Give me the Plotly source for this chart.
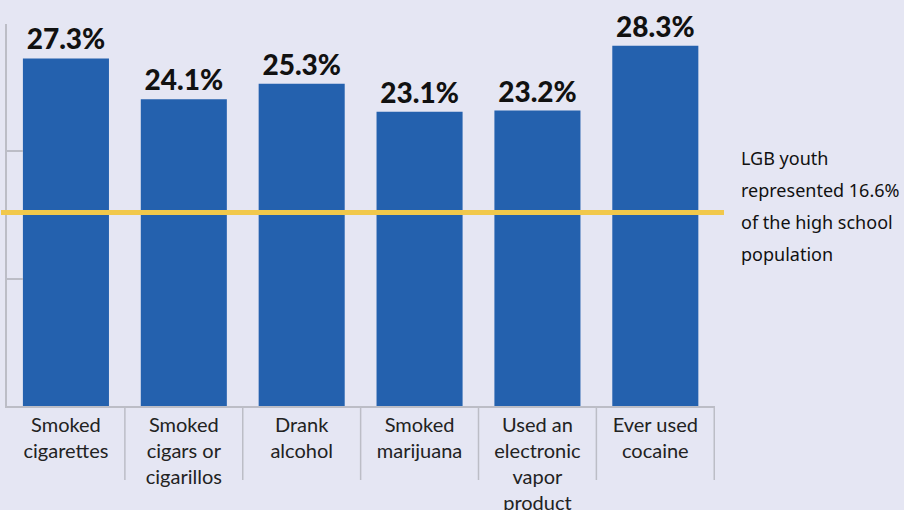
import plotly.graph_objects as go

categories = ["Smoked<br>cigarettes", "Smoked<br>cigars or<br>cigarillos", "Drank<br>alcohol",
              "Smoked<br>marijuana", "Used an<br>electronic<br>vapor<br>product", "Ever used<br>cocaine"]
values = [27.3, 24.1, 25.3, 23.1, 23.2, 28.3]
value_labels = ["27.3%", "24.1%", "25.3%", "23.1%", "23.2%", "28.3%"]
ref_line_value = 15.2
note_lines = ["LGB youth", "represented 16.6%", "of the high school", "population"]
y_ticks = [0, 10, 20, 30]

BG = "#e5e6f3"
BLUE = "#2461ae"
YELLOW = "#f1c84b"
GRAY = "#bcbdc6"

fig = go.Figure()
fig.add_trace(go.Bar(
    x=categories, y=values, marker_color=BLUE, marker_line_width=0,
    text=value_labels, textposition="outside", cliponaxis=False,
    textfont=dict(family="Lato", size=28, color="#111111", weight=900),
))

W, H = 904, 510
L, R, T, B = 7, 189, 24, 104
pw, ph = W - L - R, H - T - B

shapes = []
for k in range(len(categories)):
    shapes.append(dict(type="line", xref="x", yref="paper", x0=k + 0.5, x1=k + 0.5,
                       y0=0, y1=-74 / ph, line=dict(color=GRAY, width=1.5), layer="below"))
shapes.append(dict(type="line", xref="paper", yref="y", x0=-6 / pw, x1=(724 - L) / pw,
                   y0=ref_line_value, y1=ref_line_value, line=dict(color=YELLOW, width=5)))

annotations = []
for i, line in enumerate(note_lines):
    yc = 158 + 32 * i
    annotations.append(dict(text=line, xref="paper", yref="paper", x=(739 - L) / pw,
                            y=(H - B - yc) / ph, xanchor="left", yanchor="middle",
                            showarrow=False, font=dict(family="Noto Sans", size=18, color="#111111")))

fig.update_layout(
    width=W, height=H, margin=dict(l=L, r=R, t=T, b=B, autoexpand=False),
    paper_bgcolor=BG, plot_bgcolor=BG, showlegend=False, bargap=0.27,
    shapes=shapes, annotations=annotations,
    xaxis=dict(showline=True, linecolor=GRAY, linewidth=1.5, ticks="", showgrid=False,
               automargin=False,
               tickfont=dict(family="Lato", size=20, color="#222222")),
    yaxis=dict(range=[0, 30], tickvals=y_ticks, showticklabels=False, showgrid=False,
               automargin=False,
               zeroline=False, showline=True, linecolor=GRAY, linewidth=1.5,
               ticks="inside", ticklen=16, tickcolor=GRAY, tickwidth=1.5),
)

fig.write_html("out.html")
